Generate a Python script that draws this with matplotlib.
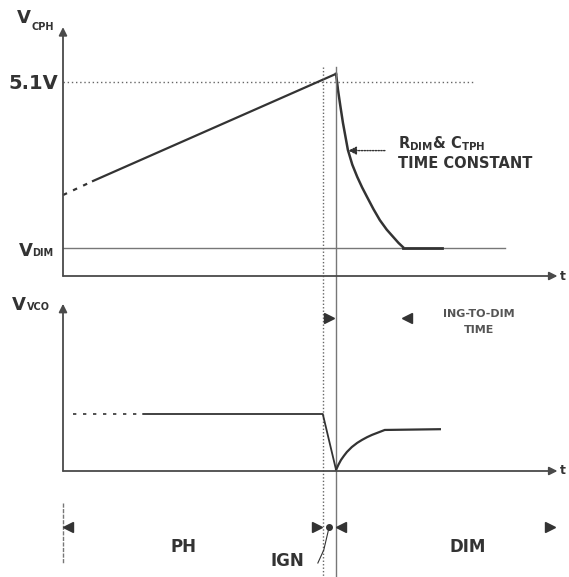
import numpy as np
import matplotlib
matplotlib.use("Agg")
import matplotlib.pyplot as plt

# figure size in pixels and the pixel scale of the drawing
W, H = 569, 577
X0, PX_T = 63, 49.2        # t = 0 at pixel 63, 49.2 px per time unit
Y0_TOP, Y0_BOT, PX_V = 276, 471, 38

INK = "#333333"
AXC = "#4a4a4a"

# time marks
t_axis_end = 10.0
t_ign = 5.28
t_dim = 5.55

# V_CPH waveform
v_51 = 5.1
v_dim = 0.74
t_ramp_dash = [0.0, 0.61]
v_ramp_dash = [2.13, 2.50]
t_ramp = [0.61, 5.55]
v_ramp = [2.50, 5.32]
t_decay = [5.55, 5.59, 5.64, 5.69, 5.79, 5.88, 5.98, 6.08, 6.18, 6.31, 6.44, 6.58, 6.71, 6.82, 6.91]
v_decay = [5.32, 4.89, 4.45, 4.03, 3.32, 2.93, 2.61, 2.33, 2.08, 1.76, 1.47, 1.22, 1.03, 0.87, 0.76]
t_settle = [6.91, 7.70]
v_settle = [0.74, 0.74]

# V_VCO waveform
t_vco_dash = [0.20, 1.63]
v_vco_dash = [1.5, 1.5]
t_vco = [1.63, 5.28, 5.55]
v_vco = [1.5, 1.5, 0.03]
t_rec = [5.55, 5.60, 5.65, 5.71, 5.77, 5.87, 5.98, 6.08, 6.18, 6.28, 6.38, 6.54, 7.66]
v_rec = [0.03, 0.17, 0.29, 0.40, 0.50, 0.63, 0.74, 0.82, 0.89, 0.95, 1.00, 1.08, 1.10]

fig = plt.figure(figsize=(W / 100, H / 100), dpi=100)
ax_top = fig.add_axes([0, 0, 1, 1])
ax_bot = fig.add_axes([0, 0, 1, 1])
for ax in (ax_top, ax_bot):
    ax.set_xlim(-X0 / PX_T, (W - X0) / PX_T)
    ax.axis("off")
    ax.patch.set_alpha(0)
ax_top.set_ylim((Y0_TOP - H) / PX_V, Y0_TOP / PX_V)
ax_bot.set_ylim((Y0_BOT - H) / PX_V, Y0_BOT / PX_V)


def axis_arrows(ax, y_top):
    ax.annotate("", xy=(0, y_top), xytext=(0, 0),
                arrowprops=dict(arrowstyle="-|>", color=AXC, lw=1.3,
                                mutation_scale=12, shrinkA=0, shrinkB=0))
    ax.annotate("", xy=(t_axis_end + 0.05, 0), xytext=(0, 0),
                arrowprops=dict(arrowstyle="-|>", color=AXC, lw=1.3,
                                mutation_scale=12, shrinkA=0, shrinkB=0))


axis_arrows(ax_top, 6.55)
axis_arrows(ax_bot, 4.4)

# top panel
ax_top.plot([0, 8.37], [v_51, v_51], color="#666666", lw=1, ls=(0, (1, 2)))
ax_top.plot([0, 8.98], [v_dim, v_dim], color="#777777", lw=1)
ax_top.plot(t_ramp_dash, v_ramp_dash, color=INK, lw=1.6, ls=(0, (2, 3)))
ax_top.plot(t_ramp, v_ramp, color=INK, lw=1.6)
ax_top.plot(t_decay, v_decay, color=INK, lw=1.8, solid_joinstyle="round")
ax_top.plot(t_settle, v_settle, color=INK, lw=2)

# bottom panel
ax_bot.plot(t_vco_dash, v_vco_dash, color=INK, lw=1.2, ls=(0, (2, 4)))
ax_bot.plot(t_vco, v_vco, color=INK, lw=1.3)
ax_bot.plot(t_rec, v_rec, color=INK, lw=1.6, solid_joinstyle="round")

# phase boundaries
y_lo = (Y0_TOP - H) / PX_V
ax_top.plot([t_ign, t_ign], [5.5, y_lo], color="#666666", lw=1, ls=(0, (1, 1.5)))
ax_top.plot([t_dim, t_dim], [5.5, y_lo], color="#777777", lw=1)

# time-constant annotation
ax_top.annotate("", xy=(5.74, 3.3), xytext=(6.6, 3.3),
                arrowprops=dict(arrowstyle="-|>", color=INK, lw=1,
                                ls=(0, (1, 1)), mutation_scale=12))


def ptext(x, y, s, size, **kw):
    kw.setdefault("color", INK)
    kw.setdefault("fontweight", "bold")
    fig.text(x / W, 1 - y / H, s, fontsize=size, family="DejaVu Sans", **kw)


ptext(398, 148, r"R$_{\mathregular{DIM}}$& C$_{\mathregular{TPH}}$", 10.5)
ptext(398, 168, "TIME CONSTANT", 10.5)

# y-axis labels
ptext(17, 23, "V", 13)
ptext(32, 30, "CPH", 7)
ptext(8, 89, "5.1V", 14)
ptext(19, 256, "V", 13)
ptext(32, 256, "DIM", 7)
ptext(12, 310, "V", 13)
ptext(27, 310, "VCO", 7)
ptext(560, 276, "t", 9, va="center")
ptext(560, 471, "t", 9, va="center")

# ign-to-dim time
ax_bot.plot([5.4], [(471 - 318) / PX_V], marker=">", color=INK, ms=7)
ax_bot.plot([6.99], [(471 - 318) / PX_V], marker="<", color=INK, ms=7)
ptext(479, 317, "ING-TO-DIM", 8, ha="center", color="#555555")
ptext(479, 333, "TIME", 8, ha="center", color="#555555")

# phase markers
y_mk = (471 - 527) / PX_V
ax_bot.plot([0, 0], [(471 - 503) / PX_V, (471 - 563) / PX_V], color="#777777",
            lw=1, ls=(0, (3, 1)))
ax_bot.plot([0.1], [y_mk], marker="<", color=INK, ms=7)
ax_bot.plot([5.17], [y_mk], marker=">", color=INK, ms=7)
ax_bot.plot([(t_ign + t_dim) / 2], [y_mk], marker="o", color=INK, ms=4)
ax_bot.plot([5.66], [y_mk], marker="<", color=INK, ms=7)
ax_bot.plot([9.9], [y_mk], marker=">", color=INK, ms=7)
ax_bot.plot([5.18, 5.3, 5.41], [(471 - 563) / PX_V, (471 - 550) / PX_V, y_mk],
            color=INK, lw=0.8)
ptext(183, 552, "PH", 12, ha="center")
ptext(468, 552, "DIM", 12, ha="center")
ptext(287, 566, "IGN", 12, ha="center")

fig.savefig("out.png", dpi=100)
